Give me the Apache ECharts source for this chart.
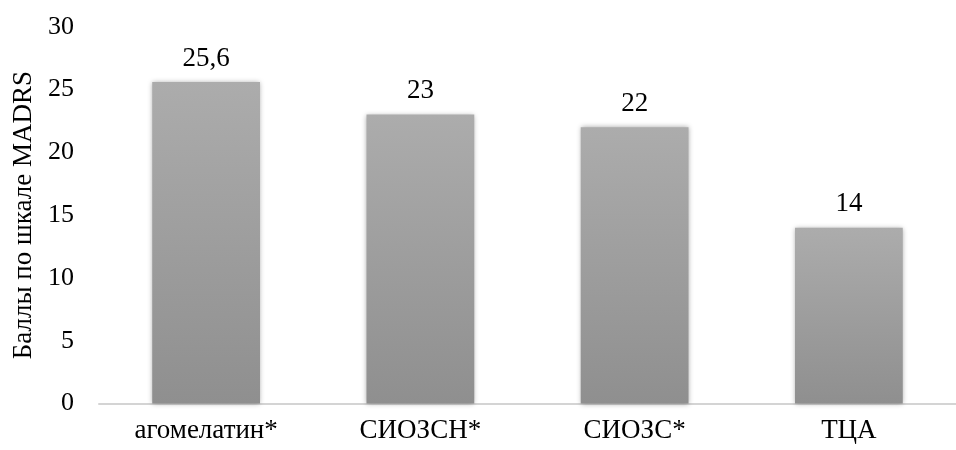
<!DOCTYPE html>
<html>
<head>
<meta charset="utf-8">
<script src="https://cdn.jsdelivr.net/npm/echarts@6/dist/echarts.min.js"></script>
<style>
  html, body { margin: 0; padding: 0; background: #fff; }
  #chart { width: 956px; height: 450px; }
</style>
</head>
<body>
<div id="chart"></div>
<script>
// Groups of antidepressants and their MADRS scores
const categories = ['агомелатин*', 'СИОЗСН*', 'СИОЗС*', 'ТЦА'];
const scores = [25.6, 23, 22, 14];
const yTicks = { min: 0, max: 30, interval: 5 };
const yAxisTitle = 'Баллы по шкале MADRS';

const FONT = '"Liberation Serif", "Times New Roman", serif';

const chart = echarts.init(document.getElementById('chart'), null, { renderer: 'canvas' });
chart.setOption({
  backgroundColor: '#ffffff',
  animation: false,
  grid: { left: 99, top: 26.7, width: 870, height: 376.8, containLabel: false },
  xAxis: {
    type: 'category',
    data: categories,
    axisLine: { show: true, lineStyle: { color: '#d4d4d4', width: 2 } },
    axisTick: { show: false },
    axisLabel: { color: '#000', fontFamily: FONT, fontSize: 27, margin: 14 }
  },
  yAxis: {
    type: 'value',
    min: yTicks.min,
    max: yTicks.max,
    interval: yTicks.interval,
    name: yAxisTitle,
    nameLocation: 'middle',
    nameGap: 62,
    nameMoveOverlap: false,
    nameTextStyle: { color: '#000', fontFamily: FONT, fontSize: 27 },
    axisLine: { show: false },
    axisTick: { show: false },
    splitLine: { show: false },
    axisLabel: { color: '#000', fontFamily: FONT, fontSize: 26, margin: 25 }
  },
  series: [{
    type: 'bar',
    data: scores,
    barWidth: '50.3%',
    itemStyle: {
      color: new echarts.graphic.LinearGradient(0, 0, 0, 1, [
        { offset: 0, color: '#acacac' },
        { offset: 1, color: '#8f8f8f' }
      ]),
      shadowBlur: 5,
      shadowColor: 'rgba(0,0,0,0.35)',
      shadowOffsetX: 0,
      shadowOffsetY: 0
    },
    label: {
      show: true,
      position: 'top',
      distance: 10,
      color: '#000',
      fontFamily: FONT,
      fontSize: 27,
      formatter: p => String(p.value).replace('.', ',')
    }
  }]
});
</script>
</body>
</html>
